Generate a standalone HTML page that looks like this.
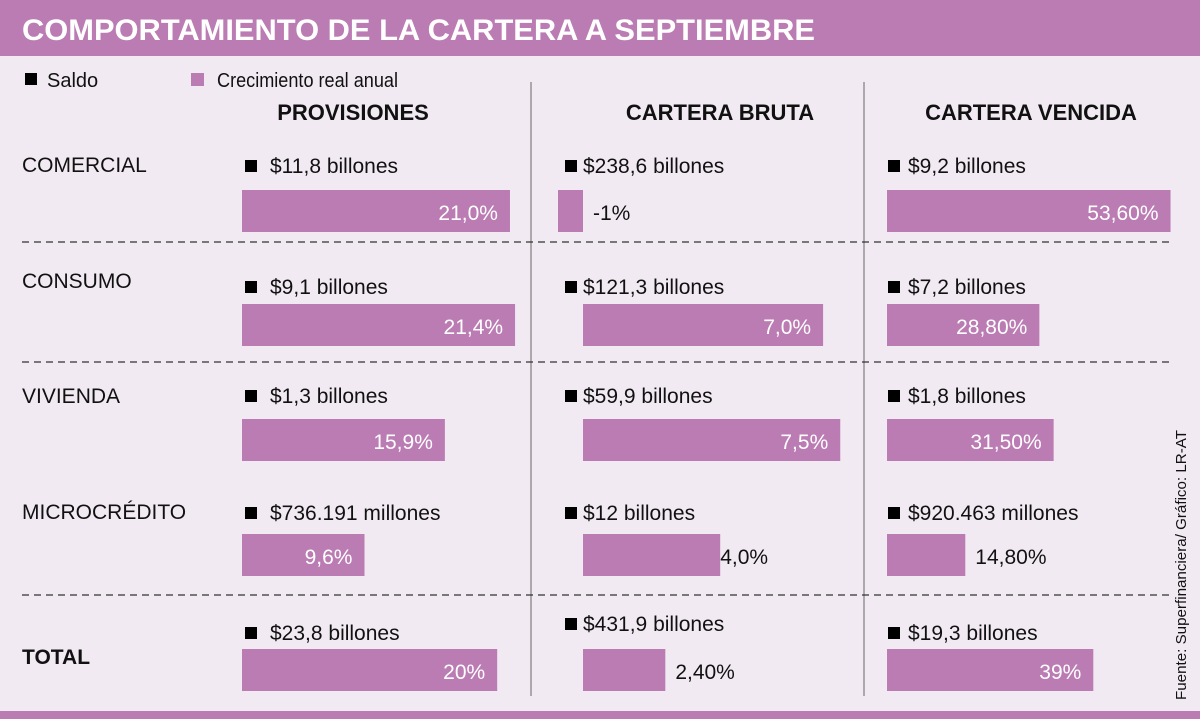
<!DOCTYPE html>
<html><head><meta charset="utf-8"><style>
html,body{margin:0;padding:0;background:#f2eaf3;}
svg{display:block;font-family:"Liberation Sans",sans-serif;}
</style></head><body>
<svg id="chart" width="1200" height="719" viewBox="0 0 1200 719" xmlns="http://www.w3.org/2000/svg">
<rect x="0" y="0" width="1200" height="719" fill="#f2eaf3"/>
<rect x="0" y="0" width="1200" height="56" fill="#bb7bb3"/>
<text x="22" y="40" fill="#fff" font-weight="bold" font-size="30" textLength="793" lengthAdjust="spacingAndGlyphs">COMPORTAMIENTO DE LA CARTERA A SEPTIEMBRE</text>
<rect x="0" y="711" width="1200" height="8" fill="#bb7bb3"/>
<rect x="25" y="73" width="12" height="12" fill="#000"/>
<text x="47" y="87" font-size="20" fill="#111">Saldo</text>
<rect x="191" y="73" width="13" height="13" fill="#bb7bb3"/>
<text x="217" y="87" font-size="20" fill="#111" textLength="181" lengthAdjust="spacingAndGlyphs">Crecimiento real anual</text>
<line x1="531" y1="82" x2="531" y2="696" stroke="#666" stroke-width="1"/>
<line x1="864" y1="82" x2="864" y2="696" stroke="#666" stroke-width="1"/>
<line x1="22" y1="242" x2="1170" y2="242" stroke="#333" stroke-width="1.2" stroke-dasharray="7,5"/>
<line x1="22" y1="362" x2="1170" y2="362" stroke="#333" stroke-width="1.2" stroke-dasharray="7,5"/>
<line x1="22" y1="595" x2="1170" y2="595" stroke="#333" stroke-width="1.2" stroke-dasharray="7,5"/>
<text transform="translate(1186,565) rotate(-90)" text-anchor="middle" font-size="15" fill="#111" textLength="270" lengthAdjust="spacingAndGlyphs">Fuente: Superfinanciera/ Gráfico: LR-AT</text>
<g id="marks"></g>
</svg>
<script>
const categories = ["COMERCIAL","CONSUMO","VIVIENDA","MICROCRÉDITO","TOTAL"];
const columns = ["PROVISIONES","CARTERA BRUTA","CARTERA VENCIDA"];
const provisionesGrowth = [21.0, 21.4, 15.9, 9.6, 20];
const brutaGrowth = [-1, 7.0, 7.5, 4.0, 2.4];
const vencidaGrowth = [53.6, 28.8, 31.5, 14.8, 39];
const provisionesLabels = ["21,0%","21,4%","15,9%","9,6%","20%"];
const brutaLabels = ["-1%","7,0%","7,5%","4,0%","2,40%"];
const vencidaLabels = ["53,60%","28,80%","31,50%","14,80%","39%"];
const provisionesSaldo = ["$11,8 billones","$9,1 billones","$1,3 billones","$736.191 millones","$23,8 billones"];
const brutaSaldo = ["$238,6 billones","$121,3 billones","$59,9 billones","$12 billones","$431,9 billones"];
const vencidaSaldo = ["$9,2 billones","$7,2 billones","$1,8 billones","$920.463 millones","$19,3 billones"];

const NS = "http://www.w3.org/2000/svg";
const g = document.getElementById("marks");
function el(tag, attrs, txt){const e=document.createElementNS(NS,tag);for(const k in attrs)e.setAttribute(k,attrs[k]);if(txt!==undefined)e.textContent=txt;g.appendChild(e);return e;}
const rowLabelY=[172,288,403,519,664];
const saldoY=[173,294,403,520,640];
const barY=[190,304,419,534,649];
const cols=[
 {x0:242,scale:12.76,negScale:12.76,inside:110,gap:10,vals:provisionesGrowth,labels:provisionesLabels,saldo:provisionesSaldo,sq:245,tx:270,cx:353,key:"provisiones"},
 {x0:583,scale:34.3,negScale:25,inside:150,gap:0,vals:brutaGrowth,labels:brutaLabels,saldo:brutaSaldo,sq:565,tx:583,cx:720,key:"bruta"},
 {x0:887,scale:5.29,negScale:5.29,inside:110,gap:10,vals:vencidaGrowth,labels:vencidaLabels,saldo:vencidaSaldo,sq:888,tx:908,cx:1031,key:"vencida"}
];
cols.forEach((c,ci)=>{
 const h=el("text",{x:c.cx,y:120,"text-anchor":"middle","font-size":"22","font-weight":"bold",fill:"#111"},columns[ci]);
 
 
});
categories.forEach((cat,i)=>{
 const t=el("text",{x:22,y:rowLabelY[i],"font-size":"21",fill:"#111","font-weight":i===4?"bold":"normal"},cat);
 
 
 cols.forEach(c=>{
  const sy=(c.key==="bruta"&&i===4)?631:saldoY[i];
  const sq=el("rect",{x:c.sq,y:sy-13,width:12,height:12,fill:"#000"});
  
  
  const st=el("text",{x:c.tx,y:sy,"font-size":"21",fill:"#111"},c.saldo[i]);
  
  
  const v=c.vals[i];
  const w=v>=0?v*c.scale:-v*c.negScale;
  const x=v>=0?c.x0:c.x0-w;
  const b=el("rect",{x:x,y:barY[i],width:w,height:42,fill:"#bb7bb3"});
  
  
  let lx,anchor,col;
  if(v<0){lx=c.x0+10;anchor="start";col="#111";}
  else if(w>c.inside){lx=x+w-12;anchor="end";col="#fff";}
  else {lx=x+w+(w>100?c.gap:10);anchor="start";col="#111";}
  const lt=el("text",{x:lx,y:barY[i]+30,"font-size":"21","text-anchor":anchor,fill:col},c.labels[i]);
  
  
 });
});
</script>
</body></html>
